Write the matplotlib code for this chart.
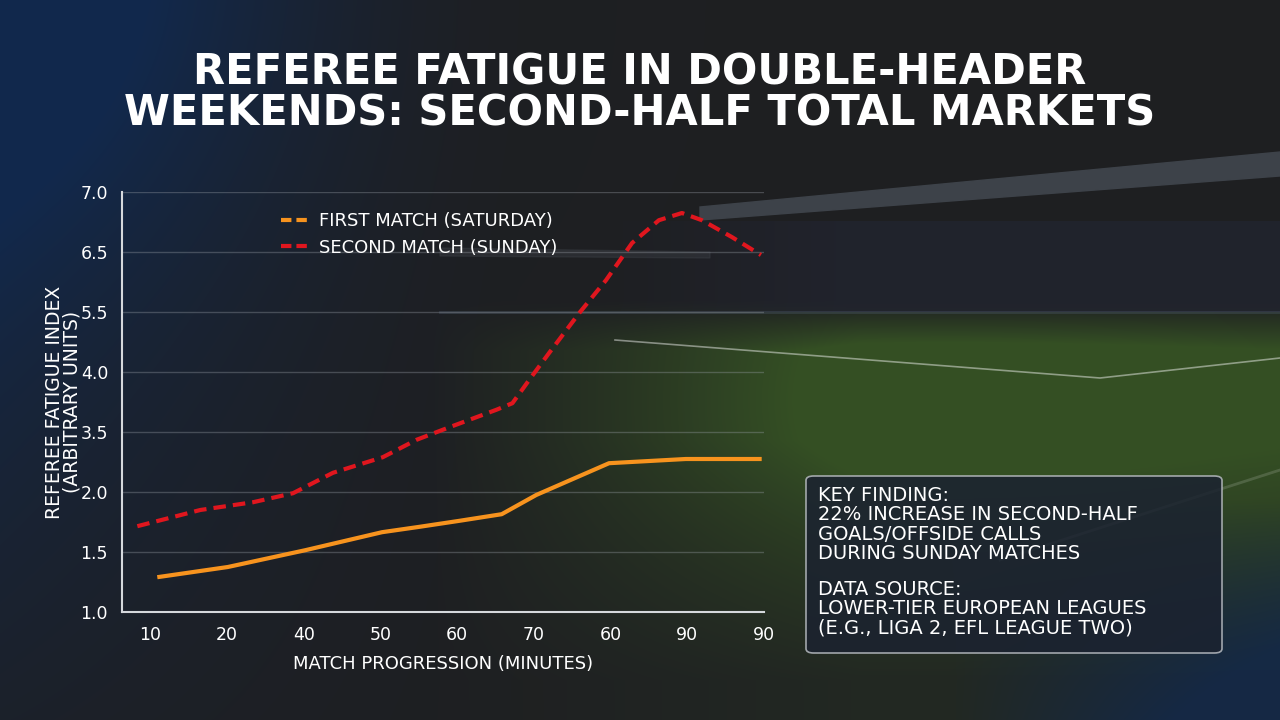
import numpy as np
import matplotlib.pyplot as plt
from matplotlib.lines import Line2D
from matplotlib.patches import FancyBboxPatch, Polygon

# Datos (posiciones de categoria en el eje x, indice de fatiga en el eje y)
x_tick_labels = ['10', '20', '40', '50', '60', '70', '60', '90', '90']
y_tick_labels = ['1.0', '1.5', '2.0', '3.5', '4.0', '5.5', '6.5', '7.0']

first_x = [0.09, 1.01, 2.02, 3.02, 3.51, 4.03, 4.58, 5.03, 5.98, 6.98, 7.97]
first_y = [0.58, 0.75, 1.03, 1.33, 1.42, 1.52, 1.63, 1.95, 2.48, 2.55, 2.55]

second_x = [-0.17, 0.65, 1.34, 1.86, 2.38, 3.03, 3.47, 3.90, 4.51, 4.72, 4.94,
            5.20, 5.59, 5.94, 6.28, 6.63, 6.93, 7.19, 7.58, 7.96]
second_y = [1.43, 1.70, 1.83, 1.98, 2.32, 2.58, 2.87, 3.08, 3.37, 3.48, 3.87,
            4.32, 4.98, 5.53, 6.15, 6.53, 6.65, 6.53, 6.25, 5.95]

title = 'REFEREE FATIGUE IN DOUBLE-HEADER\nWEEKENDS: SECOND-HALF TOTAL MARKETS'
key_text = ('KEY FINDING:\n22% INCREASE IN SECOND-HALF\nGOALS/OFFSIDE CALLS\n'
            'DURING SUNDAY MATCHES')
source_text = 'DATA SOURCE:\nLOWER-TIER EUROPEAN LEAGUES\n(E.G., LIGA 2, EFL LEAGUE TWO)'

W, H = 1280, 720
fig = plt.figure(figsize=(12.8, 7.2), dpi=100)

# Fondo: degradado oscuro con tono azul y cesped verde a la derecha
bg = fig.add_axes([0, 0, 1, 1])
yy, xx = np.mgrid[0:H, 0:W]
img = np.zeros((H, W, 3))
img[:] = (0.118, 0.122, 0.133)
navy = np.array([0.07, 0.16, 0.30])
w_left = np.clip(1 - xx / 520, 0, 1) ** 1.5 * np.clip(1 - yy / 900, 0, 1)
w_left = w_left + 0.5 * np.exp(-((xx / 300) ** 2 + (yy / 260) ** 2))
w_left = np.clip(w_left, 0, 1)
w_br = np.clip((xx - 950) / 330, 0, 1) * np.clip((yy - 500) / 220, 0, 1)
w_br = np.clip(w_br * 1.2, 0, 0.8)
grass = np.array([0.21, 0.32, 0.14])
w_g = np.clip((xx - 430) / 430, 0, 1) * np.clip((yy - 300) / 50, 0, 1)
w_g = w_g * np.clip(1 - (yy - 440) / 300, 0.2, 1)
w_g = w_g * (0.75 + 0.25 * np.exp(-(((xx - 950) / 300) ** 2 + ((yy - 400) / 120) ** 2)))
w_g = np.clip(w_g * 1.2, 0, 0.95)
stand = np.array([0.13, 0.14, 0.18])
w_s = np.clip((xx - 600) / 250, 0, 1) * ((yy > 220) & (yy < 312))
w_s = w_s * 0.9
for wgt, col in [(w_left, navy), (w_g, grass), (w_s, stand), (w_br, navy)]:
    img = img * (1 - wgt[..., None]) + col * wgt[..., None]
bg.imshow(img, extent=[0, W, H, 0], aspect='auto', zorder=0)
# techo de la grada y lineas del campo
bg.add_patch(Polygon([[700, 207], [1280, 152], [1280, 176], [700, 220]],
                     closed=True, color='#3d4249', zorder=1))
bg.add_patch(Polygon([[440, 248], [710, 252], [710, 258], [440, 256]],
                     closed=True, color='#3a3e44', alpha=0.45, zorder=1))
bg.plot([440, 1280], [312, 312], color='#5a6a80', lw=2, alpha=0.3, zorder=1)
bg.plot([615, 1100, 1280], [340, 378, 358], color='white', lw=1.2, alpha=0.45, zorder=1)
bg.plot([1000, 1280], [560, 470], color='white', lw=2, alpha=0.15, zorder=1)
bg.set_xlim(0, W)
bg.set_ylim(H, 0)
bg.axis('off')

# Titulo
fig.text(0.5, 1 - 93 / H, title, ha='center', va='center', color='white',
         fontsize=30, fontweight='heavy', family='DejaVu Sans',
         linespacing=0.98)

# Ejes principales
ax = fig.add_axes([122 / W, 108 / H, 642 / W, 420 / H])
ax.set_facecolor('none')
ax.plot(first_x, first_y, color='#f7931e', lw=3, solid_capstyle='butt', zorder=3)
ax.plot(second_x, second_y, color='#e0161e', lw=3, dashes=(3, 1.7), zorder=3)

ax.set_xlim(-0.37, 8.0)
ax.set_ylim(0, 7)
ax.set_xticks(range(len(x_tick_labels)))
ax.set_xticklabels(x_tick_labels)
ax.set_yticks(range(len(y_tick_labels)))
ax.set_yticklabels(y_tick_labels)
ax.tick_params(colors='white', labelsize=12.5, length=0, pad=10)
ax.grid(axis='y', color='#9aa0a8', alpha=0.35, lw=1)
for s in ['top', 'right']:
    ax.spines[s].set_visible(False)
for s in ['left', 'bottom']:
    ax.spines[s].set_color('#d5d8dc')
    ax.spines[s].set_linewidth(1.5)

ax.set_xlabel('MATCH PROGRESSION (MINUTES)', color='white', fontsize=13, labelpad=8)
ax.set_ylabel('REFEREE FATIGUE INDEX\n(ARBITRARY UNITS)', color='white',
              fontsize=13.5, labelpad=-1, linespacing=0.95)

handles = [Line2D([], [], color='#f7931e', lw=3, dashes=(2.5, 1.2)),
           Line2D([], [], color='#e0161e', lw=3, dashes=(2.5, 1.2))]
leg = ax.legend(handles, ['FIRST MATCH (SATURDAY)', 'SECOND MATCH (SUNDAY)'],
                loc='upper left', bbox_to_anchor=(0.223, 0.99), frameon=False,
                fontsize=13, labelcolor='white', handlelength=1.5,
                handletextpad=0.6, labelspacing=0.45)

# Caja de conclusiones
box = FancyBboxPatch((806 / W, 1 - 653 / H), 416 / W, 177 / H,
                     boxstyle='round,pad=0,rounding_size=0.006',
                     transform=fig.transFigure, facecolor='#1b2230', alpha=0.85,
                     edgecolor='#b8bcc2', lw=1.2, zorder=5)
fig.patches.append(box)
fig.text(818 / W, 1 - 486 / H, key_text, ha='left', va='top', color='white',
         fontsize=14, linespacing=1.02, zorder=6)
fig.text(818 / W, 1 - 580 / H, source_text, ha='left', va='top', color='white',
         fontsize=14, linespacing=1.02, zorder=6)

fig.savefig('out.png', dpi=100)
plt.close(fig)
